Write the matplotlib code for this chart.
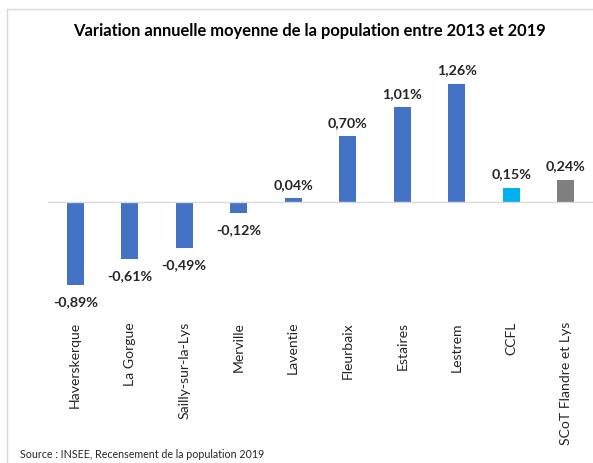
#!/usr/bin/env python3
#coding: utf-8

import matplotlib
matplotlib.use('Agg')
import matplotlib.pyplot as plt
from matplotlib.patches import Rectangle

communes = ['Haverskerque', 'La Gorgue', 'Sailly-sur-la-Lys', 'Merville', 'Laventie',
            'Fleurbaix', 'Estaires', 'Lestrem', 'CCFL', 'SCoT Flandre et Lys']
variation = [-0.89, -0.61, -0.49, -0.12, 0.04, 0.70, 1.01, 1.26, 0.15, 0.24]
couleurs = ['#4472C4'] * 8 + ['#00B0F0', '#7F7F7F']

TITRE = 'Variation annuelle moyenne de la population entre 2013 et 2019'
SOURCE = 'Source : INSEE, Recensement de la population 2019'


def main():
    plt.rcParams['font.family'] = ['Lato', 'DejaVu Sans']
    fig = plt.figure(figsize=(5.93, 4.64), dpi=100)
    W, H = 593, 464

    # cadre gris clair
    fig.patches.append(Rectangle((7 / W, -0.1), 1.2, 1 - 10 / H + 0.1,
                                 transform=fig.transFigure, fill=False,
                                 edgecolor='#D9D9D9', linewidth=1))

    ax = fig.add_axes([48 / W, 1 - 300 / H, 545 / W, 240 / H])
    x = range(len(communes))
    ax.bar(x, variation, width=0.31, color=couleurs)
    ax.axhline(0, color='#D9D9D9', linewidth=1)
    ax.set_xlim(-0.5, len(communes) - 0.5)
    ax.set_ylim(-1.035, 1.526)
    for s in ax.spines.values():
        s.set_visible(False)
    ax.set_yticks([])
    ax.set_xticks([])

    for i, v in enumerate(variation):
        lab = f'{v:.2f}%'.replace('.', ',')
        off = 10.5 if v >= 0 else -11.5
        ax.annotate(lab, (i, v), xytext=(0, off), textcoords='offset points',
                    ha='center', va='center', fontsize=10.3, fontweight='bold',
                    color='#262626')

    for i, c in enumerate(communes):
        fig.text((48 + 54.5 * (i + 0.5)) / W, 1 - 322 / H, c, rotation=90,
                 ha='center', va='top', fontsize=10.1, color='#262626')

    fig.text(309 / W, 1 - 31 / H, TITRE, ha='center', va='center',
             fontsize=11.9, fontweight='bold', color='black')
    fig.text(20 / W, 1 - 455 / H, SOURCE, ha='left', va='center',
             fontsize=7.65, color='#262626')

    fig.savefig('out.png', dpi=100)


if __name__ == '__main__':
    main()
